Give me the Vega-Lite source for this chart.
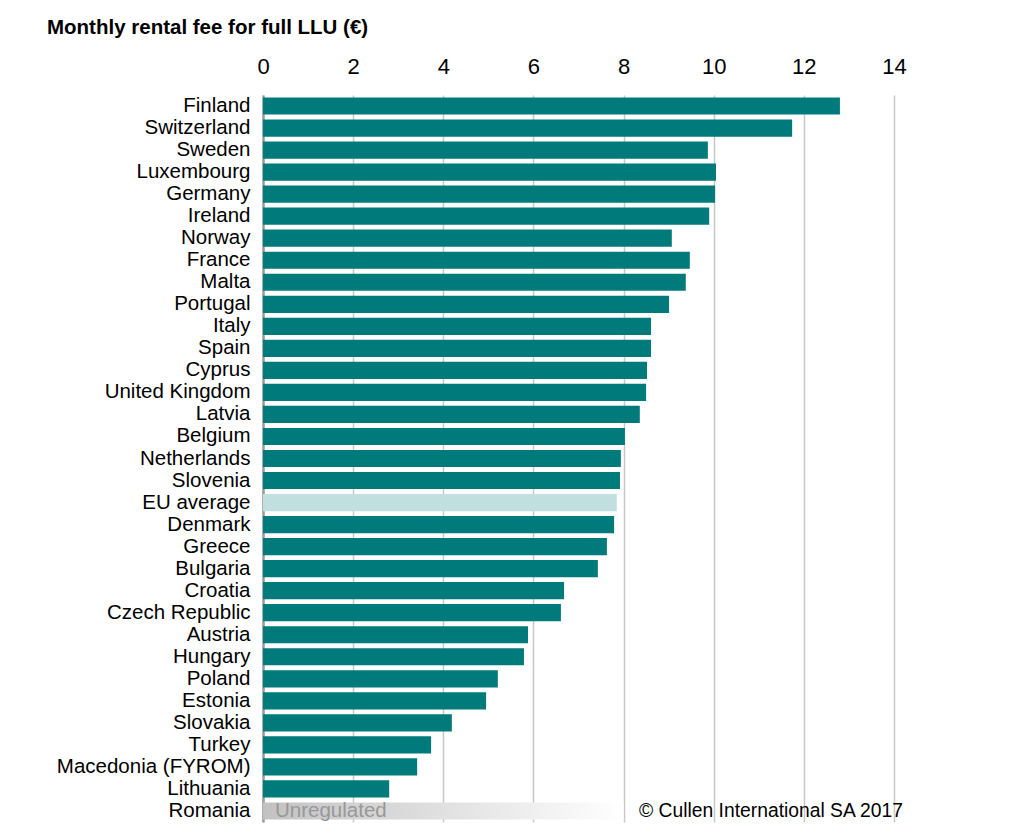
{
  "$schema": "https://vega.github.io/schema/vega-lite/v6.json",
  "width": 631,
  "height": 727,
  "autosize": {"type": "none"},
  "padding": {"left": 263, "top": 95, "right": 130, "bottom": 17},
  "background": "white",
  "config": {
    "font": "Liberation Sans",
    "view": {"stroke": null}
  },
  "title": {
    "text": "Monthly rental fee for full LLU (€)",
    "anchor": "start",
    "frame": "group",
    "fontSize": 20.5,
    "fontWeight": "bold",
    "color": "black",
    "dx": -216,
    "offset": 17
  },
  "datasets": {
    "fees": [
      {"country": "Finland", "fee": 12.80, "kind": "country"},
      {"country": "Switzerland", "fee": 11.74, "kind": "country"},
      {"country": "Sweden", "fee": 9.87, "kind": "country"},
      {"country": "Luxembourg", "fee": 10.05, "kind": "country"},
      {"country": "Germany", "fee": 10.03, "kind": "country"},
      {"country": "Ireland", "fee": 9.90, "kind": "country"},
      {"country": "Norway", "fee": 9.07, "kind": "country"},
      {"country": "France", "fee": 9.47, "kind": "country"},
      {"country": "Malta", "fee": 9.38, "kind": "country"},
      {"country": "Portugal", "fee": 9.01, "kind": "country"},
      {"country": "Italy", "fee": 8.61, "kind": "country"},
      {"country": "Spain", "fee": 8.61, "kind": "country"},
      {"country": "Cyprus", "fee": 8.52, "kind": "country"},
      {"country": "United Kingdom", "fee": 8.50, "kind": "country"},
      {"country": "Latvia", "fee": 8.36, "kind": "country"},
      {"country": "Belgium", "fee": 8.03, "kind": "country"},
      {"country": "Netherlands", "fee": 7.94, "kind": "country"},
      {"country": "Slovenia", "fee": 7.92, "kind": "country"},
      {"country": "EU average", "fee": 7.85, "kind": "average"},
      {"country": "Denmark", "fee": 7.79, "kind": "country"},
      {"country": "Greece", "fee": 7.63, "kind": "country"},
      {"country": "Bulgaria", "fee": 7.43, "kind": "country"},
      {"country": "Croatia", "fee": 6.68, "kind": "country"},
      {"country": "Czech Republic", "fee": 6.61, "kind": "country"},
      {"country": "Austria", "fee": 5.88, "kind": "country"},
      {"country": "Hungary", "fee": 5.79, "kind": "country"},
      {"country": "Poland", "fee": 5.21, "kind": "country"},
      {"country": "Estonia", "fee": 4.95, "kind": "country"},
      {"country": "Slovakia", "fee": 4.19, "kind": "country"},
      {"country": "Turkey", "fee": 3.73, "kind": "country"},
      {"country": "Macedonia (FYROM)", "fee": 3.42, "kind": "country"},
      {"country": "Lithuania", "fee": 2.80, "kind": "country"},
      {"country": "Romania", "fee": 8.0, "kind": "unregulated"}
    ]
  },
  "data": {"name": "fees"},
  "encoding": {
    "y": {
      "field": "country",
      "type": "nominal",
      "sort": null,
      "scale": {"paddingInner": 0.22, "paddingOuter": 0.11},
      "axis": {
        "title": null,
        "labelFontSize": 20.5,
        "labelColor": "black",
        "labelPadding": 13,
        "ticks": false,
        "domainColor": "#9a9a9a",
        "domainWidth": 2.5,
        "labelLimit": 300
      }
    }
  },
  "layer": [
    {
      "transform": [{"filter": "datum.kind !== 'unregulated'"}],
      "mark": {"type": "bar"},
      "encoding": {
        "x": {
          "field": "fee",
          "type": "quantitative",
          "scale": {"domain": [0, 14], "nice": false},
          "axis": {
            "orient": "top",
            "title": null,
            "values": [0, 2, 4, 6, 8, 10, 12, 14],
            "labelFontSize": 22,
            "labelColor": "black",
            "labelPadding": 17,
            "labelFlush": false,
            "domain": false,
            "ticks": false,
            "grid": true,
            "gridColor": "#c8c8c8",
            "gridWidth": 1.5
          }
        },
        "color": {
          "field": "kind",
          "type": "nominal",
          "scale": {"domain": ["country", "average"], "range": ["#007a7a", "#c2dfdf"]},
          "legend": null
        }
      }
    },
    {
      "transform": [{"filter": "datum.kind === 'unregulated'"}],
      "mark": {
        "type": "bar",
        "color": {
          "gradient": "linear",
          "x1": 0, "x2": 1, "y1": 0, "y2": 0,
          "stops": [
            {"offset": 0, "color": "#c2c2c2"},
            {"offset": 1, "color": "#ffffff"}
          ]
        }
      },
      "encoding": {
        "x": {"field": "fee", "type": "quantitative"}
      }
    },
    {
      "transform": [{"filter": "datum.kind === 'unregulated'"}],
      "mark": {"type": "text", "align": "left", "baseline": "middle", "dx": 12, "fontSize": 20.5, "color": "#989898"},
      "encoding": {
        "x": {"datum": 0, "type": "quantitative"},
        "text": {"value": "Unregulated"}
      }
    },
    {
      "transform": [{"filter": "datum.kind === 'unregulated'"}],
      "mark": {"type": "text", "align": "right", "baseline": "middle", "dx": 9, "fontSize": 19.3, "color": "black"},
      "encoding": {
        "x": {"datum": 14, "type": "quantitative"},
        "text": {"value": "© Cullen International SA 2017"}
      }
    }
  ]
}
